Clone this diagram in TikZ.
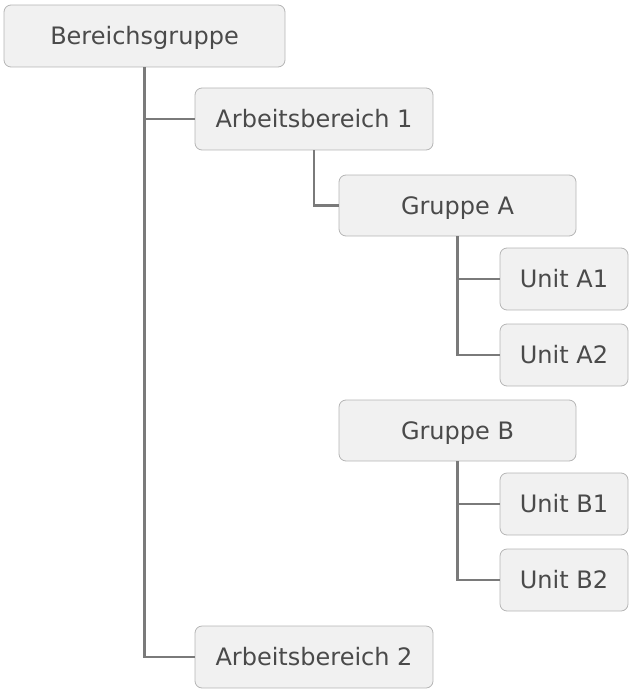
\documentclass[tikz,border=0pt]{standalone}
\usepackage{fontspec}
\setmainfont{DejaVu Sans}
\usepackage{tikz}
\usetikzlibrary{positioning}
\definecolor{boxfill}{HTML}{F1F1F1}
\definecolor{boxline}{HTML}{B5B5B5}
\definecolor{wire}{HTML}{7A7A7A}
\definecolor{label}{HTML}{4A4A4A}

\begin{document}
\begin{tikzpicture}[x=1pt,y=-1pt,
  box/.style={draw=boxline,fill=boxfill,rounded corners=7pt,line width=0.8pt,
    text=label,font=\fontsize{24}{28}\selectfont,inner sep=0pt,
    text height=17.5pt,text depth=0pt},
  wide/.style={box,minimum width=238pt,minimum height=62pt},
  unit/.style={box,minimum width=128pt,minimum height=62pt},
  tie/.style={draw=wire,line width=2.6pt}]
\useasboundingbox (0,0) rectangle (633,695);
%
% top level
\node[box,minimum width=281pt,minimum height=62pt] (bg) at (144.5,36) {Bereichsgruppe};
\node[wide] (ab1) at (314,119) {Arbeitsbereich 1};
\node[wide] (ab2) at (314,657) {Arbeitsbereich 2};
%
% groups
\node[wide,minimum width=237pt,minimum height=61pt] (ga) at (457.5,205.5) {Gruppe A};
\node[wide,minimum width=237pt,minimum height=61pt] (gb) at (457.5,430.5) {Gruppe B};
%
% units
\foreach \n/\t/\y in {ua1/Unit A1/279,ua2/Unit A2/355,ub1/Unit B1/504,ub2/Unit B2/580}
\node[unit] (\n) at (564,\y) {\t};
%
% connectors
\draw[tie] (bg.south) |- (ab2.west);
\draw[tie] (bg.south |- ab1.west) -- (ab1.west);
\draw[tie] (ab1.south) |- (ga.west);
\draw[tie] (ga.south) |- (ua2.west);
\draw[tie] (ga.south |- ua1.west) -- (ua1.west);
\draw[tie] (gb.south) |- (ub2.west);
\draw[tie] (gb.south |- ub1.west) -- (ub1.west);
\end{tikzpicture}
\end{document}
